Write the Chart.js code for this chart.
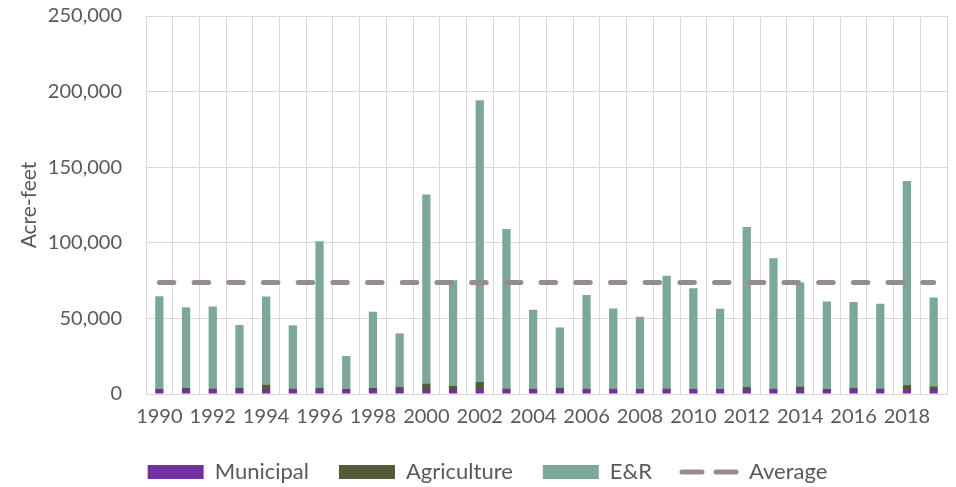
<!DOCTYPE html>
<html>
<head>
<meta charset="utf-8">
<script src="https://cdn.jsdelivr.net/npm/chart.js@4/dist/chart.umd.min.js"></script>
<style>
  html, body { margin: 0; padding: 0; background: #ffffff; }
  #wrap { width: 956px; height: 487px; }
</style>
</head>
<body>
<div id="wrap"><canvas id="chart" width="956" height="487"></canvas></div>
<script>
// Annual water use by category, in acre-feet
const years = [1990, 1991, 1992, 1993, 1994, 1995, 1996, 1997, 1998, 1999,
               2000, 2001, 2002, 2003, 2004, 2005, 2006, 2007, 2008, 2009,
               2010, 2011, 2012, 2013, 2014, 2015, 2016, 2017, 2018, 2019];

const municipal = [3300, 3300, 3300, 3300, 3300, 3300, 3300, 3300, 3300, 3300,
                   3300, 3300, 3300, 3300, 3300, 3300, 3300, 3300, 3300, 3300,
                   3300, 3300, 3300, 3300, 3300, 3300, 3300, 3300, 3300, 3300];

const agriculture = [200, 900, 400, 1000, 2900, 400, 700, 200, 800, 1500,
                     3700, 2200, 4800, 400, 300, 1000, 300, 300, 300, 400,
                     300, 300, 1300, 300, 1800, 200, 1000, 400, 2600, 1800];

const eAndR = [61200, 53100, 54200, 41300, 58300, 41700, 97100, 21600, 50300, 35300,
               125000, 69800, 186100, 105400, 52100, 39700, 61800, 53000, 47500, 74500,
               66400, 52800, 105800, 86100, 68700, 57700, 56500, 56000, 134900, 58800];

const average = [73700, 73700, 73700, 73700, 73700, 73700, 73700, 73700, 73700, 73700,
                 73700, 73700, 73700, 73700, 73700, 73700, 73700, 73700, 73700, 73700,
                 73700, 73700, 73700, 73700, 73700, 73700, 73700, 73700, 73700, 73700];

const yTicks = [0, 50000, 100000, 150000, 200000, 250000];

const TEXT = '#595959';
const GRID = '#d9d9d9';
const FONT = 'Lato';

const AVG_COLOR = '#968c8c';

new Chart(document.getElementById('chart'), {
  type: 'bar',
  data: {
    labels: years.map(String),
    datasets: [
      { label: 'Municipal', data: municipal, backgroundColor: '#7030a0', stack: 'use', order: 1,
        barPercentage: 0.31, categoryPercentage: 1.0 },
      { label: 'Agriculture', data: agriculture, backgroundColor: '#525a38', stack: 'use', order: 1,
        barPercentage: 0.31, categoryPercentage: 1.0 },
      { label: 'E&R', data: eAndR, backgroundColor: '#7ca89c', stack: 'use', order: 1,
        barPercentage: 0.31, categoryPercentage: 1.0 },
      { type: 'line', label: 'Average', data: average, stack: 'avg', order: 0,
        borderColor: AVG_COLOR, borderWidth: 5, borderDash: [14.5, 20.2],
        borderCapStyle: 'round', pointRadius: 0, fill: false, tension: 0 }
    ]
  },
  options: {
    responsive: false,
    animation: false,
    layout: { padding: { left: 28, right: 9, top: 16, bottom: -6 } },
    scales: {
      x: {
        stacked: true,
        offset: true,
        grid: { color: GRID, lineWidth: 1, offset: true, drawTicks: false },
        border: { color: GRID, width: 1 },
        ticks: {
          autoSkip: false, maxRotation: 0, minRotation: 0, padding: 11,
          color: TEXT, font: { family: FONT, size: 20 },
          callback: (v, i) => (i % 2 === 0 ? String(years[i]) : '')
        },
        afterFit: (s) => { s.height = 37; }
      },
      y: {
        stacked: true,
        min: yTicks[0], max: yTicks[yTicks.length - 1],
        afterBuildTicks: (s) => { s.ticks = yTicks.map(v => ({ value: v })); },
        // invisible tick marks keep the labels clear of the axis line
        grid: { color: GRID, lineWidth: 1, drawTicks: true, tickLength: 20, tickColor: 'rgba(0,0,0,0)' },
        border: { color: GRID, width: 1 },
        ticks: {
          padding: 4, color: TEXT, font: { family: FONT, size: 20 },
          callback: (v) => Number(v).toLocaleString('en-US')
        },
        title: {
          display: true, text: 'Acre-feet', color: TEXT,
          font: { family: FONT, size: 21 }, padding: { top: -11, bottom: 0 }
        },
        afterFit: (s) => { s.width = 118; }
      }
    },
    plugins: {
      tooltip: { enabled: false },
      legend: {
        position: 'bottom',
        labels: {
          usePointStyle: true, pointStyleWidth: 56, boxHeight: 14, padding: 30,
          color: TEXT, font: { family: FONT, size: 22 },
          sort: (a, b) => a.datasetIndex - b.datasetIndex,
          generateLabels: (chart) => {
            const items = Chart.defaults.plugins.legend.labels.generateLabels(chart);
            items.forEach((it) => {
              const ds = chart.data.datasets[it.datasetIndex];
              if (ds.type === 'line') {
                it.pointStyle = 'line';
                it.strokeStyle = AVG_COLOR;
                it.lineWidth = 5;
                it.lineDash = [20, 14];
                it.lineCap = 'round';
              } else {
                it.pointStyle = 'rect';
                it.lineWidth = 0;
              }
            });
            return items;
          }
        }
      }
    }
  }
});
</script>
</body>
</html>
